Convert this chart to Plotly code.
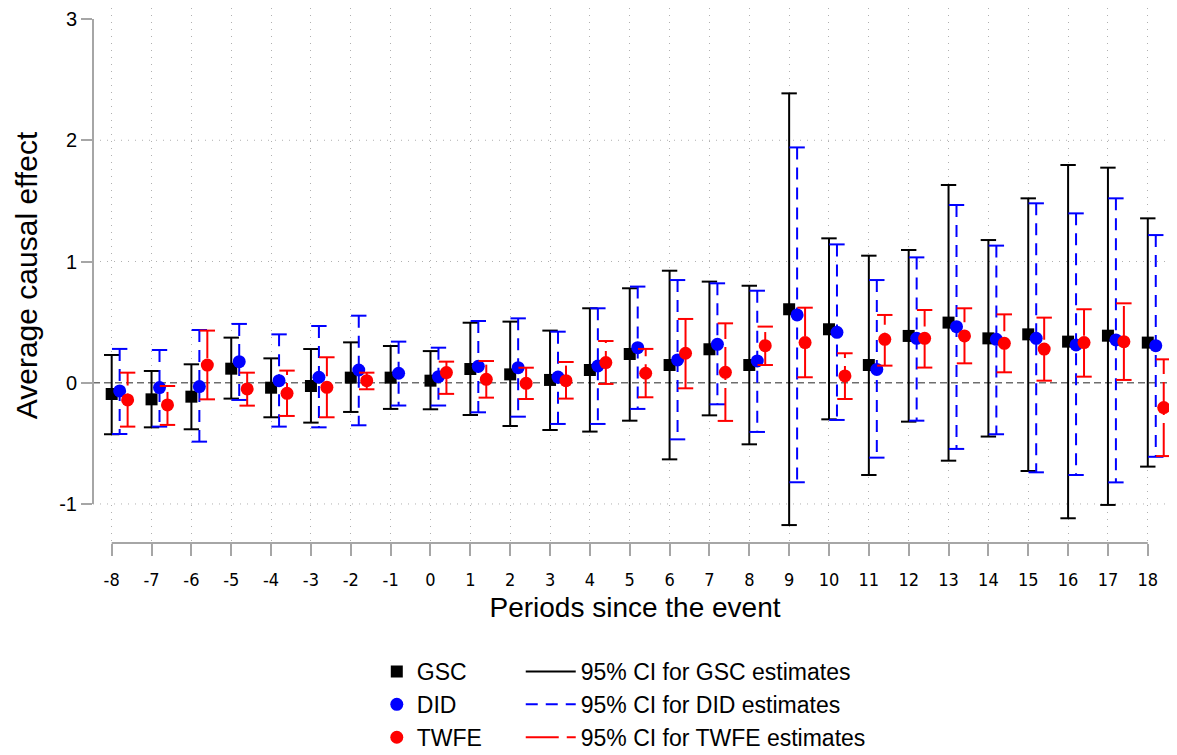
import plotly.graph_objects as go

# ---------------- data ----------------
periods = list(range(-8, 19))

gsc_est = [-0.093, -0.137, -0.115, 0.116, -0.041, -0.027, 0.042, 0.042, 0.017, 0.113, 0.069, 0.023, 0.105,
           0.237, 0.146, 0.276, 0.146, 0.606, 0.441, 0.146, 0.386, 0.496, 0.366, 0.399, 0.339, 0.388, 0.331]
gsc_lo = [-0.425, -0.368, -0.384, -0.131, -0.285, -0.329, -0.241, -0.216, -0.219, -0.266, -0.357, -0.390, -0.403,
          -0.313, -0.632, -0.269, -0.508, -1.174, -0.302, -0.761, -0.321, -0.643, -0.444, -0.728, -1.118, -1.008, -0.692]
gsc_hi = [0.229, 0.097, 0.152, 0.372, 0.201, 0.278, 0.333, 0.303, 0.261, 0.495, 0.504, 0.430, 0.614,
          0.779, 0.924, 0.834, 0.800, 2.387, 1.191, 1.048, 1.095, 1.631, 1.177, 1.521, 1.796, 1.774, 1.356]

did_est = [-0.068, -0.040, -0.032, 0.174, 0.017, 0.045, 0.105, 0.078, 0.050, 0.135, 0.124, 0.047, 0.138,
           0.289, 0.188, 0.317, 0.180, 0.559, 0.416, 0.110, 0.366, 0.462, 0.358, 0.366, 0.312, 0.353, 0.306]
did_lo = [-0.423, -0.362, -0.486, -0.142, -0.362, -0.368, -0.351, -0.188, -0.188, -0.244, -0.280, -0.340, -0.340,
          -0.216, -0.467, -0.178, -0.406, -0.821, -0.307, -0.618, -0.313, -0.546, -0.425, -0.739, -0.761, -0.822, -0.611]
did_hi = [0.279, 0.270, 0.435, 0.485, 0.399, 0.468, 0.553, 0.339, 0.289, 0.509, 0.531, 0.421, 0.614,
          0.793, 0.847, 0.820, 0.759, 1.941, 1.141, 0.847, 1.034, 1.466, 1.131, 1.480, 1.397, 1.521, 1.218]

twfe_est = [-0.142, -0.183, 0.146, -0.051, -0.087, -0.038, 0.017, None, 0.084, 0.028, -0.005, 0.017, 0.166,
            0.078, 0.243, 0.086, 0.306, 0.331, 0.056, 0.358, 0.366, 0.386, 0.325, 0.278, 0.331, 0.339, -0.205]
twfe_lo = [-0.362, -0.348, -0.137, -0.189, -0.274, -0.285, -0.054, None, -0.092, -0.123, -0.134, -0.131, -0.010,
           -0.120, -0.046, -0.315, 0.146, 0.045, -0.134, 0.141, 0.125, 0.160, 0.086, 0.017, 0.050, 0.023, -0.605]
twfe_hi = [0.083, -0.027, 0.430, 0.083, 0.100, 0.210, 0.083, None, 0.174, 0.179, 0.124, 0.171, 0.344,
           0.279, 0.526, 0.490, 0.463, 0.619, 0.243, 0.559, 0.600, 0.614, 0.564, 0.537, 0.606, 0.655, 0.193]

y_ticks = [-1, 0, 1, 2, 3]

# ---------------- styling ----------------
FONT = "Liberation Sans, Arial, Helvetica, sans-serif"
NARROW = "Liberation Sans Narrow, DejaVu Sans Condensed, Arial Narrow, Liberation Sans, sans-serif"
AXIS_GRAY = "#a6a6a6"
GRID_GRAY = "#b0b0b0"

series = [
    dict(key="gsc", name="GSC", est=gsc_est, lo=gsc_lo, hi=gsc_hi, off=0.0, color="#000000",
         symbol="square", size=12, dash="solid", from_top=False,
         ci_name="95% CI for GSC estimates"),
    dict(key="did", name="DID", est=did_est, lo=did_lo, hi=did_hi, off=0.2, color="#0000ff",
         symbol="circle", size=13, dash="12px,8px", from_top=True,
         ci_name="95% CI for DID estimates"),
    dict(key="twfe", name="TWFE", est=twfe_est, lo=twfe_lo, hi=twfe_hi, off=0.4, color="#ff0000",
         symbol="circle", size=13, dash="33px,8px", from_top=False,
         ci_name="95% CI for TWFE estimates"),
]

fig = go.Figure()

for s in series:
    lx, ly, cx, cy, mx, my = [], [], [], [], [], []
    for p, e, lo, hi in zip(periods, s["est"], s["lo"], s["hi"]):
        xp = p + s["off"]
        if lo is not None and hi is not None:
            a, b = (hi, lo) if s["from_top"] else (lo, hi)
            lx += [xp, xp, None]
            ly += [a, b, None]
            cx += [xp, xp]
            cy += [lo, hi]
        if e is not None:
            mx.append(xp)
            my.append(e)
    # CI vertical lines
    fig.add_trace(go.Scatter(
        x=lx, y=ly, mode="lines", name=s["ci_name"], legend="legend2",
        legendgroup="ci_" + s["key"],
        line=dict(color=s["color"], width=2, dash=s["dash"]),
        hoverinfo="skip", connectgaps=False))
    # CI caps
    fig.add_trace(go.Scatter(
        x=cx, y=cy, mode="markers", showlegend=False, hoverinfo="skip",
        marker=dict(symbol="line-ew", size=11, color=s["color"],
                    line=dict(color=s["color"], width=2)),
        cliponaxis=False))
    # point estimates
    fig.add_trace(go.Scatter(
        x=mx, y=my, mode="markers", name=s["name"], legend="legend",
        legendgroup="pt_" + s["key"],
        marker=dict(symbol=s["symbol"], size=s["size"], color=s["color"],
                    line=dict(width=0)),
        cliponaxis=False))

# axis lines, grid and reference line drawn as decorations
shapes = []
for v in y_ticks:
    if v not in (0, max(y_ticks)):
        shapes.append(dict(type="line", xref="paper", x0=0, x1=1, yref="y", y0=v, y1=v,
                           line=dict(color=GRID_GRAY, width=1, dash="1px,6px"), layer="below"))
shapes.append(dict(type="line", xref="paper", x0=0, x1=1, yref="y", y0=0, y1=0,
                   line=dict(color="#6e6e6e", width=1.5, dash="7px,4px"), layer="below"))
shapes.append(dict(type="line", xref="paper", x0=0, x1=0, yref="y",
                   y0=min(y_ticks), y1=max(y_ticks),
                   line=dict(color=AXIS_GRAY, width=2)))
shapes.append(dict(type="line", xref="x", x0=min(periods), x1=max(periods), yref="paper",
                   y0=0, y1=0, line=dict(color=AXIS_GRAY, width=2)))

fig.update_layout(
    width=1169, height=747,
    margin=dict(l=85, r=0, t=0, b=212, autoexpand=False),
    plot_bgcolor="white", paper_bgcolor="white",
    font=dict(family=FONT, color="black"),
    shapes=shapes,
    showlegend=True,
    legend=dict(x=0.2618, y=-0.2, xanchor="left", yanchor="top",
                font=dict(size=23, family=FONT), bgcolor="rgba(0,0,0,0)",
                itemwidth=30, traceorder="normal", tracegroupgap=2),
    legend2=dict(x=0.3946, y=-0.2, xanchor="left", yanchor="top",
                 font=dict(size=23, family=FONT), bgcolor="rgba(0,0,0,0)",
                 itemwidth=50, traceorder="normal", tracegroupgap=2),
    xaxis=dict(
        range=[-8.469, 18.733], automargin=False,
        tickvals=periods, ticktext=[str(p) for p in periods],
        ticks="outside", ticklen=12, tickwidth=1.5, tickcolor=AXIS_GRAY,
        ticklabelstandoff=8,
        showline=False, zeroline=False,
        showgrid=True, gridcolor=GRID_GRAY, gridwidth=1, griddash="1px,6px",
        tickfont=dict(size=18, family=NARROW),
        title=dict(text="Periods since the event", font=dict(size=28, family=FONT), standoff=8),
    ),
    yaxis=dict(
        range=[-1.322, 3.091], automargin=False,
        tickvals=y_ticks, ticktext=[str(v) for v in y_ticks],
        ticks="outside", ticklen=11, tickwidth=1.5, tickcolor=AXIS_GRAY,
        showline=False, zeroline=False, showgrid=False,
        tickfont=dict(size=20, family=FONT),
        title=dict(text="Average causal effect", font=dict(size=30, family=FONT), standoff=12),
    ),
)

fig.write_html("out.html")
